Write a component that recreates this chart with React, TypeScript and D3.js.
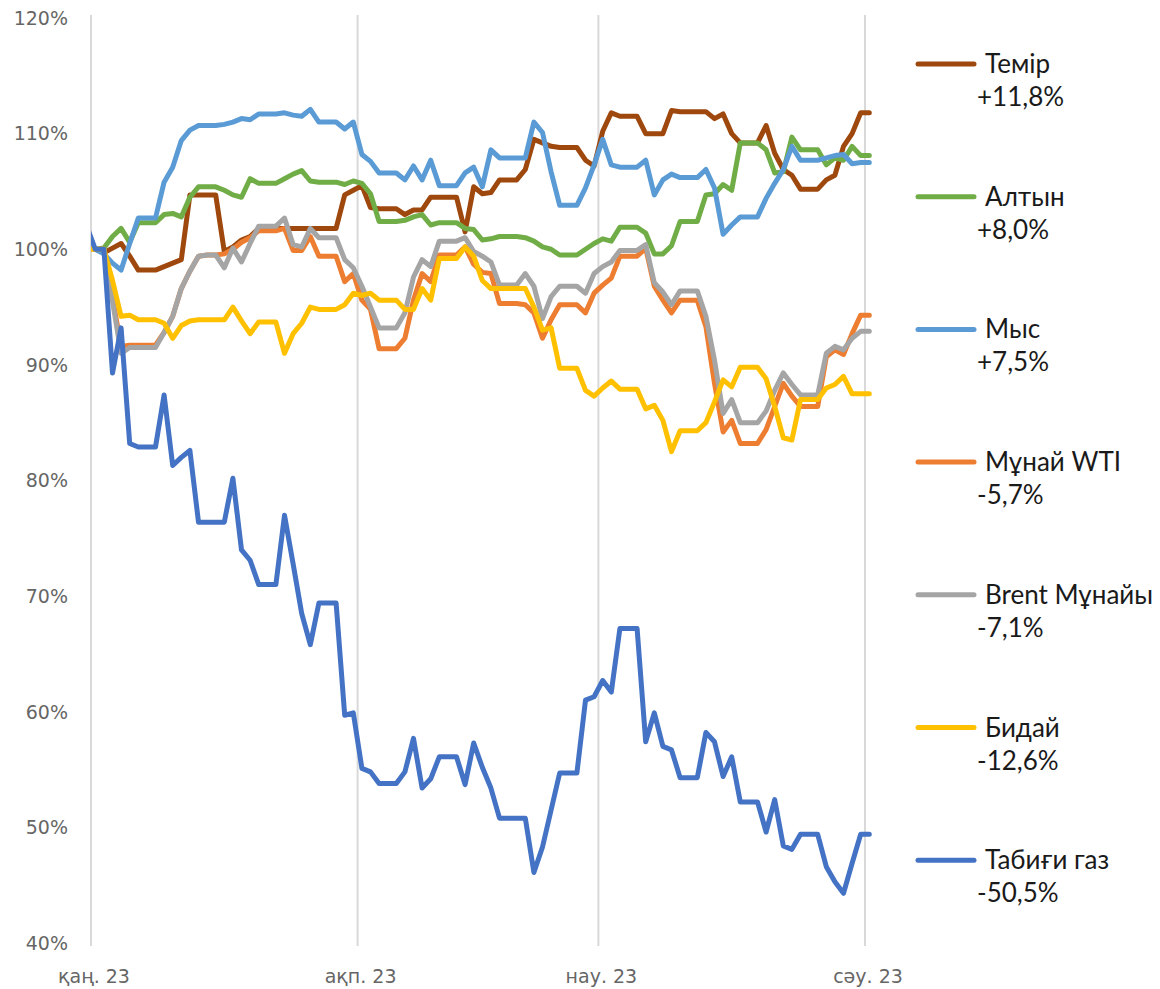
import * as d3 from 'd3';

// daily values, index 0 = 31 Dec 2022, index 1 = 1 Jan 2023 ... last = 1 Apr 2023
const TEMIR = [100, 100,
  99.7, 100.1, 100.5, 99.4, 98.2, 98.2, 98.2,
  98.5, 98.8, 99.1, 104.7, 104.7, 104.7, 104.7,
  99.8, 100.2, 100.8, 101.1, 101.8, 101.8, 101.8,
  101.8, 101.8, 101.8, 101.8, 101.8, 101.8, 101.8,
  104.7, 105.1, 105.5, 103.6, 103.5, 103.5, 103.5,
  103.0, 103.4, 103.4, 104.5, 104.5, 104.5, 104.5,
  101.5, 105.4, 104.8, 104.9, 106.0, 106.0, 106.0,
  106.9, 109.5, 109.2, 108.9, 108.8, 108.8, 108.8,
  107.7, 107.2, 110.2, 111.8, 111.5, 111.5, 111.5,
  110.0, 110.0, 110.0, 112.0, 111.9, 111.9, 111.9,
  111.9, 111.3, 111.7, 110.0, 109.2, 109.2, 109.2,
  110.7, 108.3, 106.9, 106.4, 105.2, 105.2, 105.2,
  106.0, 106.4, 108.9, 110.0, 111.8, 111.8];

const ALTYN = [100, 100,
  100.1, 101.1, 101.8, 100.6, 102.3, 102.3, 102.3,
  103.0, 103.1, 102.8, 104.5, 105.4, 105.4, 105.4,
  105.1, 104.7, 104.5, 106.1, 105.7, 105.7, 105.7,
  106.1, 106.5, 106.8, 105.9, 105.8, 105.8, 105.8,
  105.6, 105.9, 105.7, 104.8, 102.4, 102.4, 102.4,
  102.5, 102.8, 103.0, 102.1, 102.3, 102.3, 102.3,
  101.8, 101.7, 100.8, 100.9, 101.1, 101.1, 101.1,
  101.0, 100.7, 100.2, 100.0, 99.5, 99.5, 99.5,
  100.0, 100.5, 100.9, 100.7, 101.9, 101.9, 101.9,
  101.4, 99.6, 99.6, 100.3, 102.4, 102.4, 102.4,
  104.7, 104.8, 105.6, 105.1, 109.2, 109.2, 109.2,
  108.6, 106.6, 106.7, 109.7, 108.6, 108.6, 108.6,
  107.3, 107.9, 107.7, 108.9, 108.1, 108.1];

const MYS = [100, 100,
  99.6, 98.8, 98.2, 100.5, 102.7, 102.7, 102.7,
  105.8, 107.1, 109.4, 110.3, 110.7, 110.7, 110.7,
  110.8, 111.0, 111.3, 111.2, 111.7, 111.7, 111.7,
  111.8, 111.6, 111.5, 112.1, 111.0, 111.0, 111.0,
  110.4, 111.0, 108.2, 107.6, 106.6, 106.6, 106.6,
  106.0, 107.2, 106.0, 107.7, 105.5, 105.5, 105.5,
  106.6, 107.1, 105.4, 108.6, 107.9, 107.9, 107.9,
  107.9, 111.0, 110.1, 106.7, 103.8, 103.8, 103.8,
  105.3, 107.3, 109.5, 107.3, 107.1, 107.1, 107.1,
  107.7, 104.7, 106.0, 106.5, 106.2, 106.2, 106.2,
  106.9, 105.3, 101.3, 102.1, 102.8, 102.8, 102.8,
  104.4, 105.7, 106.9, 108.9, 107.7, 107.7, 107.7,
  107.9, 108.1, 108.2, 107.4, 107.5, 107.5];

const WTI = [100, 100,
  100.0, 95.8, 91.6, 91.7, 91.7, 91.7, 91.7,
  92.8, 94.2, 96.6, 98.1, 99.4, 99.5, 99.5,
  99.6, 100.0, 100.6, 101.0, 101.6, 101.6, 101.6,
  101.8, 99.9, 99.9, 101.1, 99.4, 99.4, 99.4,
  97.2, 97.9, 95.6, 94.8, 91.4, 91.4, 91.4,
  92.3, 95.6, 97.9, 97.2, 99.5, 99.5, 99.5,
  100.2, 98.7, 98.0, 97.9, 95.3, 95.3, 95.3,
  95.2, 94.5, 92.3, 93.9, 95.2, 95.2, 95.2,
  94.5, 96.2, 96.9, 97.5, 99.4, 99.4, 99.4,
  100.1, 96.8, 95.6, 94.5, 95.6, 95.6, 95.6,
  93.3, 88.4, 84.2, 85.2, 83.2, 83.2, 83.2,
  84.4, 86.4, 88.4, 87.3, 86.4, 86.4, 86.4,
  90.7, 91.3, 90.9, 92.7, 94.3, 94.3];

const BRENT = [100, 100,
  100.0, 95.5, 91.0, 91.5, 91.5, 91.5, 91.5,
  92.8, 94.2, 96.6, 98.1, 99.4, 99.5, 99.5,
  98.4, 100.1, 98.9, 100.5, 102.0, 102.0, 102.0,
  102.7, 100.4, 100.2, 101.8, 101.0, 101.0, 101.0,
  99.1, 98.4, 96.8, 95.0, 93.2, 93.2, 93.2,
  94.5, 97.6, 99.1, 98.5, 100.7, 100.7, 100.7,
  101.0, 99.8, 99.4, 98.9, 96.9, 96.9, 96.9,
  97.9, 96.8, 94.0, 95.9, 96.8, 96.8, 96.8,
  96.2, 97.9, 98.5, 98.9, 99.9, 99.9, 99.9,
  100.4, 97.1, 96.3, 95.2, 96.4, 96.4, 96.4,
  94.2, 90.4, 85.8, 87.0, 85.0, 85.0, 85.0,
  86.0, 87.8, 89.3, 88.3, 87.4, 87.4, 87.4,
  91.0, 91.6, 91.3, 92.3, 92.9, 92.9];

const BIDAY = [100, 100,
  100.0, 97.3, 94.2, 94.3, 93.9, 93.9, 93.9,
  93.6, 92.3, 93.4, 93.8, 93.9, 93.9, 93.9,
  93.9, 95.0, 93.8, 92.7, 93.7, 93.7, 93.7,
  91.0, 92.7, 93.6, 95.0, 94.8, 94.8, 94.8,
  95.2, 96.2, 96.0, 96.2, 95.6, 95.6, 95.6,
  94.8, 94.8, 96.6, 95.6, 99.2, 99.2, 99.2,
  100.2, 99.4, 97.3, 96.6, 96.6, 96.6, 96.6,
  96.6, 95.0, 93.0, 93.2, 89.7, 89.7, 89.7,
  87.8, 87.3, 88.0, 88.6, 87.9, 87.9, 87.9,
  86.2, 86.5, 85.2, 82.5, 84.3, 84.3, 84.3,
  85.0, 86.8, 88.7, 88.1, 89.8, 89.8, 89.8,
  88.8, 86.4, 83.7, 83.5, 87.0, 87.0, 87.0,
  88.0, 88.3, 89.0, 87.5, 87.5, 87.5];

const GAZ = [102, 100,
  100.0, 89.3, 93.2, 83.2, 82.9, 82.9, 82.9,
  87.4, 81.3, 82.0, 82.6, 76.4, 76.4, 76.4,
  76.4, 80.2, 74.0, 73.1, 71.0, 71.0, 71.0,
  77.0, 72.8, 68.5, 65.8, 69.4, 69.4, 69.4,
  59.7, 59.9, 55.1, 54.8, 53.8, 53.8, 53.8,
  54.8, 57.7, 53.4, 54.2, 56.1, 56.1, 56.1,
  53.7, 57.3, 55.2, 53.4, 50.8, 50.8, 50.8,
  50.8, 46.1, 48.3, 51.5, 54.7, 54.7, 54.7,
  61.0, 61.3, 62.7, 61.7, 67.2, 67.2, 67.2,
  57.4, 59.9, 57.0, 56.7, 54.3, 54.3, 54.3,
  58.2, 57.4, 54.4, 56.1, 52.2, 52.2, 52.2,
  49.6, 52.4, 48.4, 48.1, 49.4, 49.4, 49.4,
  46.6, 45.3, 44.3, 46.9, 49.4, 49.4];

const NAMES = ['Темір', 'Алтын', 'Мыс', 'Мұнай WTI', 'Brent Мұнайы', 'Бидай', 'Табиғи газ'];
const CHANGES = ['+11,8%', '+8,0%', '+7,5%', '-5,7%', '-7,1%', '-12,6%', '-50,5%'];
const COLORS = ['#9E480E', '#70AD47', '#5B9BD5', '#ED7D31', '#A5A5A5', '#FFC000', '#4472C4'];
const VALUES = [TEMIR, ALTYN, MYS, WTI, BRENT, BIDAY, GAZ];

const MONTH_LABELS = ['қаң. 23', 'ақп. 23', 'нау. 23', 'сәу. 23'];
const Y_TICKS = [40, 50, 60, 70, 80, 90, 100, 110, 120];

const START = new Date(Date.UTC(2022, 11, 31, 12));

export default function App() {
  const width = 1160;
  const height = 989;
  const plot = { left: 91, top: 18, bottom: 943 };

  const x = d3.scaleUtc()
    .domain([new Date(Date.UTC(2023, 0, 1)), new Date(Date.UTC(2023, 3, 1))])
    .range([91, 865]);
  const y = d3.scaleLinear().domain([40, 120]).range([plot.bottom, plot.top]);

  const months = d3.utcMonth.range(new Date(Date.UTC(2023, 0, 1)), new Date(Date.UTC(2023, 3, 2)));

  const line = d3.line<number>()
    .x((_, i) => x(d3.utcDay.offset(START, i)))
    .y(v => y(v));

  const axisFont = { fontFamily: '"DejaVu Sans", sans-serif', fontSize: 19, fill: '#666666' };
  const legendFont = { fontFamily: 'Lato, sans-serif', fontSize: 26, fill: '#1a1a1a' };

  return (
    <svg width={width} height={height} style={{ position: 'absolute', left: 0, top: 0, background: '#fff' }}>
      <defs>
        <clipPath id="plot-clip">
          <rect x={plot.left} y={0} width={820} height={height} />
        </clipPath>
      </defs>

      {/* vertical grid at month starts */}
      {months.map((m, i) => (
        <line key={i} x1={x(m)} x2={x(m)} y1={15} y2={946} stroke="#D9D9D9" strokeWidth={2} />
      ))}

      {/* y labels */}
      {Y_TICKS.map(t => (
        <text key={t} x={68} y={y(t)} dy="0.36em" textAnchor="end" {...axisFont}>{t}%</text>
      ))}

      {/* x labels */}
      {months.map((m, i) => (
        <text key={i} x={x(m) + 3} y={983} textAnchor="middle" {...axisFont}>{MONTH_LABELS[i]}</text>
      ))}

      {/* series */}
      <g clipPath="url(#plot-clip)">
        {VALUES.map((vals, i) => (
          <path key={i} d={line(vals) ?? ''} fill="none" stroke={COLORS[i]} strokeWidth={5}
            strokeLinejoin="round" strokeLinecap="round" />
        ))}
      </g>

      {/* legend */}
      {NAMES.map((name, i) => {
        const cy = 64 + i * 132.7;
        return (
          <g key={name}>
            <line x1={918} x2={974} y1={cy} y2={cy} stroke={COLORS[i]} strokeWidth={5} strokeLinecap="round" />
            <text x={985} y={cy + 9} {...legendFont}>{name}</text>
            <text x={977} y={cy + 42} {...legendFont}>{CHANGES[i]}</text>
          </g>
        );
      })}
    </svg>
  );
}
